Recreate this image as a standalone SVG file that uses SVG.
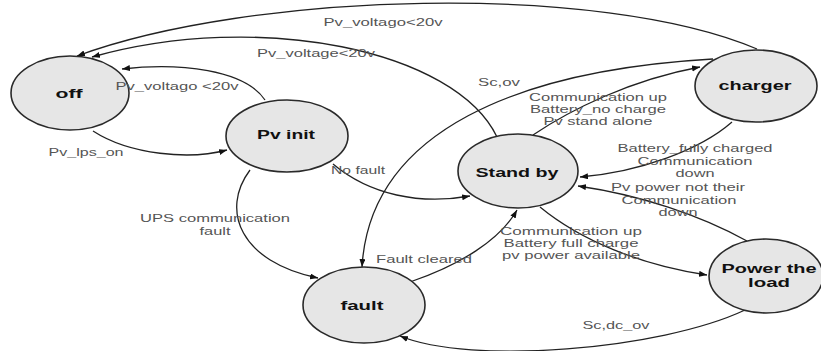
<svg xmlns="http://www.w3.org/2000/svg" width="821" height="351" viewBox="0 0 821 351">
<style>
.node{fill:#e6e6e6;stroke:#2a2a2a;stroke-width:1.6}
.nl{font-family:"Liberation Sans",Arial,sans-serif;font-weight:bold;font-size:13px;fill:#111;text-anchor:middle}
.edge{fill:none;stroke:#222;stroke-width:1.3;marker-end:url(#arr)}
.el{font-family:"Liberation Sans",Arial,sans-serif;font-size:11px;fill:#555;text-anchor:middle}
</style>
<defs>
<marker id="arr" markerUnits="userSpaceOnUse" markerWidth="9" markerHeight="7" refX="8" refY="3" orient="auto">
<path d="M0,0 L8,3 L0,6 z" fill="#111"/>
</marker>
</defs>
<rect width="821" height="351" fill="#fff"/>
<g id="connectors">
<path class="edge" d="M757 49 C600 -18 250 -8 77 56"/>
<path class="edge" d="M497 137 C455 50 260 10 92 57"/>
<path class="edge" d="M265 100 C245 70 180 62 122 69"/>
<path class="edge" d="M93 131 C130 155 190 160 227 150"/>
<path class="edge" d="M333 164 C370 195 420 205 470 196"/>
<path class="edge" d="M533 135 C570 110 630 80 700 67"/>
<path class="edge" d="M732 122 C700 150 640 172 580 177"/>
<path class="edge" d="M713 59 C520 70 370 130 362 267"/>
<path class="edge" d="M747 241 C700 215 640 195 578 186"/>
<path class="edge" d="M540 207 C580 240 640 265 707 275"/>
<path class="edge" d="M410 282 C460 265 500 240 517 210"/>
<path class="edge" d="M250 170 C220 210 240 262 318 278"/>
<path class="edge" d="M745 310 C660 350 470 365 400 336"/>
</g>
<g id="off">
<ellipse class="node" cx="70" cy="93" rx="59" ry="37"/>
<text class="nl" x="69" y="98" textLength="27" lengthAdjust="spacingAndGlyphs">off</text>
</g>
<g id="pv-init">
<ellipse class="node" cx="287" cy="136" rx="61" ry="36"/>
<text class="nl" x="286" y="139" textLength="58" lengthAdjust="spacingAndGlyphs">Pv init</text>
</g>
<g id="stand-by">
<ellipse class="node" cx="518" cy="171" rx="60" ry="37"/>
<text class="nl" x="517" y="177" textLength="83" lengthAdjust="spacingAndGlyphs">Stand by</text>
</g>
<g id="charger">
<ellipse class="node" cx="756" cy="86" rx="61" ry="36"/>
<text class="nl" x="755" y="90" textLength="73" lengthAdjust="spacingAndGlyphs">charger</text>
</g>
<g id="fault">
<ellipse class="node" cx="364" cy="305" rx="61" ry="38"/>
<text class="nl" x="362" y="310" textLength="43" lengthAdjust="spacingAndGlyphs">fault</text>
</g>
<g id="power-the-load">
<ellipse class="node" cx="766" cy="276" rx="57" ry="37"/>
<text class="nl" x="769" y="273" textLength="95" lengthAdjust="spacingAndGlyphs">Power the</text>
<text class="nl" x="769" y="287" textLength="42" lengthAdjust="spacingAndGlyphs">load</text>
</g>
<g id="edge-labels">
<text class="el" x="383" y="26" textLength="119" lengthAdjust="spacingAndGlyphs">Pv_voltago&lt;20v</text>
<text class="el" x="316" y="57" textLength="118" lengthAdjust="spacingAndGlyphs">Pv_voltage&lt;20v</text>
<text class="el" x="177" y="90" textLength="123" lengthAdjust="spacingAndGlyphs">Pv_voltago &lt;20v</text>
<text class="el" x="86" y="156" textLength="75" lengthAdjust="spacingAndGlyphs">Pv_lps_on</text>
<text class="el" x="358" y="174" textLength="54" lengthAdjust="spacingAndGlyphs">No fault</text>
<text class="el" x="215" y="222" textLength="150" lengthAdjust="spacingAndGlyphs">UPS communication</text>
<text class="el" x="215" y="235" textLength="31" lengthAdjust="spacingAndGlyphs">fault</text>
<text class="el" x="499" y="86" textLength="42" lengthAdjust="spacingAndGlyphs">Sc,ov</text>
<text class="el" x="598" y="101" textLength="138" lengthAdjust="spacingAndGlyphs">Communication up</text>
<text class="el" x="598" y="113" textLength="136" lengthAdjust="spacingAndGlyphs">Battery_no charge</text>
<text class="el" x="598" y="125" textLength="109" lengthAdjust="spacingAndGlyphs">Pv stand alone</text>
<text class="el" x="695" y="152" textLength="155" lengthAdjust="spacingAndGlyphs">Battery_fully charged</text>
<text class="el" x="695" y="165" textLength="115" lengthAdjust="spacingAndGlyphs">Communication</text>
<text class="el" x="695" y="177" textLength="39" lengthAdjust="spacingAndGlyphs">down</text>
<text class="el" x="678" y="191" textLength="134" lengthAdjust="spacingAndGlyphs">Pv power not their</text>
<text class="el" x="679" y="204" textLength="115" lengthAdjust="spacingAndGlyphs">Communication</text>
<text class="el" x="678" y="216" textLength="39" lengthAdjust="spacingAndGlyphs">down</text>
<text class="el" x="571" y="235" textLength="142" lengthAdjust="spacingAndGlyphs">Communication up</text>
<text class="el" x="571" y="247" textLength="135" lengthAdjust="spacingAndGlyphs">Battery full charge</text>
<text class="el" x="571" y="259" textLength="138" lengthAdjust="spacingAndGlyphs">pv power available</text>
<text class="el" x="424" y="263" textLength="96" lengthAdjust="spacingAndGlyphs">Fault cleared</text>
<text class="el" x="616" y="329" textLength="67" lengthAdjust="spacingAndGlyphs">Sc,dc_ov</text>
</g>
</svg>
